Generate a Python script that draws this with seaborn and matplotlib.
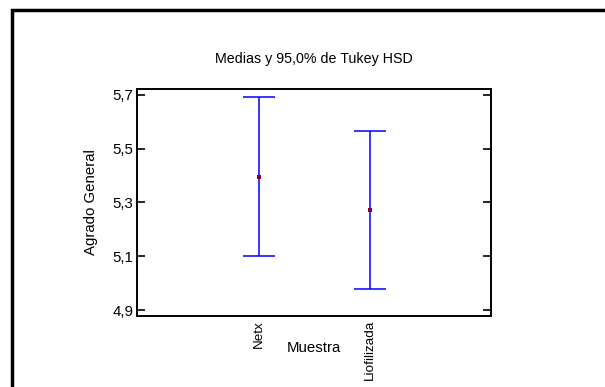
import matplotlib
matplotlib.use("Agg")
import matplotlib.pyplot as plt
import seaborn as sns
import pandas as pd
from matplotlib.patches import Rectangle

# datos (medias e intervalos Tukey HSD 95%)
muestras = ["Netx", "Liofilizada"]
medias = [5.395, 5.272]
inferior = [5.101, 4.977]
superior = [5.691, 5.566]
yticks = [4.9, 5.1, 5.3, 5.5, 5.7]
ytick_labels = ["4,9", "5,1", "5,3", "5,5", "5,7"]

df = pd.DataFrame({"Muestra": muestras, "Media": medias,
                   "Inf": inferior, "Sup": superior})

sns.set_style("white")
plt.rcParams["font.family"] = ["Liberation Sans", "DejaVu Sans"]
plt.rcParams["text.color"] = "black"
plt.rcParams["axes.labelcolor"] = "black"

fig = plt.figure(figsize=(6.05, 3.87), dpi=100)
ax = fig.add_axes([137.3 / 605, 1 - 315.7 / 387, 353.7 / 605, 226.7 / 387])

# marco exterior (solo se ven los bordes superior e izquierdo)
fig.patches.append(Rectangle((12 / 605, -0.1), 2, 1.1 - 10 / 387,
                             transform=fig.transFigure, fill=False,
                             edgecolor="black", linewidth=2.5, zorder=0))

x = list(range(len(muestras)))
ax.errorbar(x, df["Media"],
            yerr=[df["Media"] - df["Inf"], df["Sup"] - df["Media"]],
            fmt="none", ecolor="#0000ff", elinewidth=1.1, capsize=11.5,
            capthick=1.1)
sns.scatterplot(x=x, y=df["Media"], ax=ax, color="#800040", marker="s",
                s=5, linewidth=0, zorder=5)

ax.set_xlim(-1.093, 2.084)
ax.set_ylim(4.879, 5.721)
ax.set_xticks(x)
ax.set_xticklabels(muestras, rotation=90, fontsize=9.7)
ax.set_yticks(yticks)
ax.set_yticklabels(ytick_labels, fontsize=10.8)
ax.tick_params(axis="x", length=0, pad=3, colors="black")
ax.tick_params(axis="y", direction="in", length=6, width=1.2, left=True,
               right=True, pad=3, colors="black")

for s in ax.spines.values():
    s.set_color("black")
    s.set_linewidth(1.4)

ax.set_title("Medias y 95,0% de Tukey HSD", fontsize=10.3, pad=19)
ax.set_ylabel("Agrado General", fontsize=10.8, labelpad=10)
ax.set_xlabel("Muestra", fontsize=10.8)
ax.xaxis.set_label_coords(0.5, -0.11)

fig.savefig("out.png", dpi=100, facecolor="white")
